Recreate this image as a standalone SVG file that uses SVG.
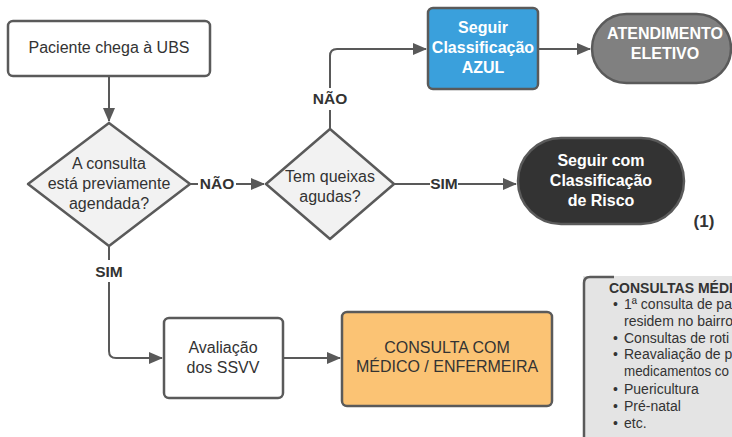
<svg xmlns="http://www.w3.org/2000/svg" width="732" height="437" viewBox="0 0 732 437">
<defs>
<marker id="ah" viewBox="0 0 14 12" refX="13" refY="6" markerWidth="14" markerHeight="12" markerUnits="userSpaceOnUse" orient="auto">
<path d="M0,0 L14,6 L0,12 Z" fill="#595959"/>
</marker>
</defs>
<style>
text{font-family:"Liberation Sans",Arial,sans-serif;}
.n{font-size:16px;fill:#333;text-anchor:middle;}
.b{font-size:16px;font-weight:bold;fill:#fff;text-anchor:middle;}
.lbl{font-size:15.5px;font-weight:bold;fill:#333;text-anchor:middle;}
.box{stroke:#5a5a5a;stroke-width:2.5;}
.c{fill:none;stroke:#595959;stroke-width:2;}
.li{font-size:14px;fill:#333;}
</style>
<rect width="732" height="437" fill="#fff"/>
<g id="connectors">
<path class="c" d="M109,76 V121" marker-end="url(#ah)"/>
<path class="c" d="M189,184 H198"/>
<path class="c" d="M236,184 H264" marker-end="url(#ah)"/>
<path class="c" d="M330,129 V110"/>
<path class="c" d="M330,88 V56 Q330,49 337,49 H426" marker-end="url(#ah)"/>
<path class="c" d="M538,49 H590" marker-end="url(#ah)"/>
<path class="c" d="M394,184 H430"/>
<path class="c" d="M458,184 H516" marker-end="url(#ah)"/>
<path class="c" d="M109,246 V260"/>
<path class="c" d="M109,282 V351 Q109,358 116,358 H162" marker-end="url(#ah)"/>
<path class="c" d="M283,358 H340" marker-end="url(#ah)"/>
<text class="lbl" x="217" y="189">NÃO</text>
<text class="lbl" x="330" y="104">NÃO</text>
<text class="lbl" x="444" y="189">SIM</text>
<text class="lbl" x="109" y="277">SIM</text>
</g>
<g id="start">
<rect class="box" x="8" y="21" width="202" height="55" rx="5" fill="#fff"/>
<text class="n" x="109" y="53">Paciente chega à UBS</text>
</g>
<g id="decision1">
<path class="box" d="M109,123 L190,184 L109,246 L28,184 Z" fill="#f2f2f2" stroke-linejoin="round"/>
<text class="n" x="109" y="169">A consulta</text>
<text class="n" x="109" y="189">está previamente</text>
<text class="n" x="109" y="209">agendada?</text>
</g>
<g id="decision2">
<path class="box" d="M330,129 L394,184 L330,239 L266,184 Z" fill="#f2f2f2" stroke-linejoin="round"/>
<text class="n" x="330" y="182">Tem queixas</text>
<text class="n" x="330" y="202">agudas?</text>
</g>
<g id="azul">
<rect class="box" x="428" y="8" width="110" height="81" rx="5" fill="#3aa0dc"/>
<text class="b" x="483" y="33">Seguir</text>
<text class="b" x="483" y="53">Classificação</text>
<text class="b" x="483" y="73">AZUL</text>
</g>
<g id="eletivo">
<rect class="box" x="592" y="14" width="139" height="69" rx="34.5" fill="#808080"/>
<text class="b" x="665" y="39" fill="#f0f0f0">ATENDIMENTO</text>
<text class="b" x="665" y="59" fill="#f0f0f0">ELETIVO</text>
</g>
<g id="risco">
<rect class="box" x="518" y="138" width="166" height="86" rx="43" fill="#333"/>
<text class="b" x="601" y="166">Seguir com</text>
<text class="b" x="601" y="186">Classificação</text>
<text class="b" x="601" y="206">de Risco</text>
<text class="lbl" x="704" y="227" style="font-size:17px">(1)</text>
</g>
<g id="avaliacao">
<rect class="box" x="164" y="318" width="119" height="80" rx="5" fill="#fff"/>
<text class="n" x="223" y="353">Avaliação</text>
<text class="n" x="223" y="373">dos SSVV</text>
</g>
<g id="consulta">
<rect class="box" x="342" y="312" width="210" height="94" rx="5" fill="#fbc374"/>
<text class="n" x="447" y="353">CONSULTA COM</text>
<text class="n" x="447" y="372">MÉDICO / ENFERMEIRA</text>
</g>
<g id="consultas-medicas">
<rect x="583" y="276" width="160" height="170" fill="#e4e4e4"/>
<path d="M614,277 H590 Q584,277 584,283 V440" fill="none" stroke="#5a5a5a" stroke-width="2.5"/>
<text x="609" y="293" style="font-size:14px;font-weight:bold;fill:#333">CONSULTAS MÉDI</text>
<text class="li" x="613" y="309">•</text><text class="li" x="624" y="309">1ª consulta de pa</text>
<text class="li" x="624" y="326">residem no bairro</text>
<text class="li" x="613" y="343">•</text><text class="li" x="624" y="343">Consultas de roti</text>
<text class="li" x="613" y="359">•</text><text class="li" x="624" y="359">Reavaliação de p</text>
<text class="li" x="624" y="376" textLength="105" lengthAdjust="spacingAndGlyphs">medicamentos co</text>
<text class="li" x="613" y="394">•</text><text class="li" x="624" y="394">Puericultura</text>
<text class="li" x="613" y="411">•</text><text class="li" x="624" y="411">Pré-natal</text>
<text class="li" x="613" y="428">•</text><text class="li" x="624" y="428">etc.</text>
</g>
</svg>
